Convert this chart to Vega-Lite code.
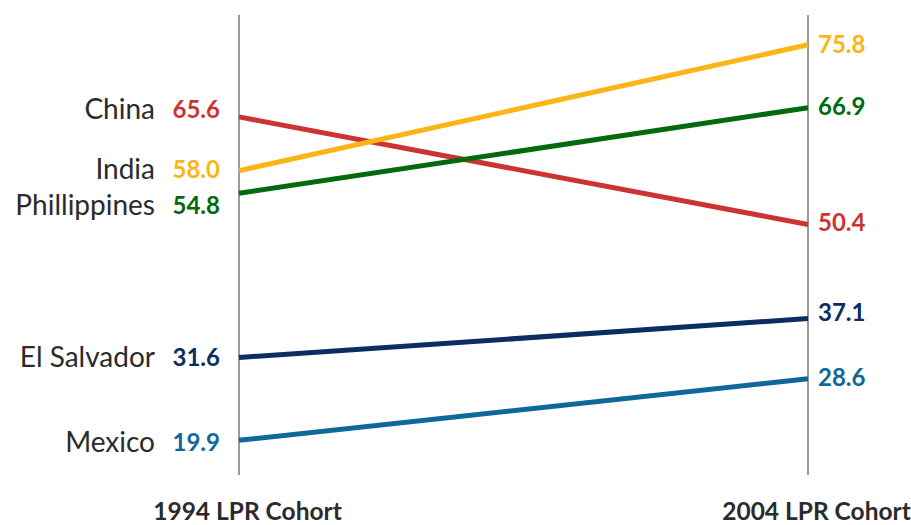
{
  "$schema": "https://vega.github.io/schema/vega-lite/v6.json",
  "autosize": "none",
  "width": 569,
  "height": 460,
  "padding": {"left": 239, "top": 15, "right": 103, "bottom": 50},
  "background": "white",
  "config": {"view": {"stroke": null}, "font": "Lato"},
  "data": {
    "values": [
      {"country": "China", "cohort": "1994 LPR Cohort", "value": 65.6, "labelValue": 66.5},
      {"country": "China", "cohort": "2004 LPR Cohort", "value": 50.4, "labelValue": 50.4},
      {"country": "India", "cohort": "1994 LPR Cohort", "value": 58.0, "labelValue": 58.0},
      {"country": "India", "cohort": "2004 LPR Cohort", "value": 75.8, "labelValue": 75.6},
      {"country": "Phillippines", "cohort": "1994 LPR Cohort", "value": 54.8, "labelValue": 52.8},
      {"country": "Phillippines", "cohort": "2004 LPR Cohort", "value": 66.9, "labelValue": 66.9},
      {"country": "El Salvador", "cohort": "1994 LPR Cohort", "value": 31.6, "labelValue": 31.4},
      {"country": "El Salvador", "cohort": "2004 LPR Cohort", "value": 37.1, "labelValue": 37.8},
      {"country": "Mexico", "cohort": "1994 LPR Cohort", "value": 19.9, "labelValue": 19.4},
      {"country": "Mexico", "cohort": "2004 LPR Cohort", "value": 28.6, "labelValue": 28.6}
    ]
  },
  "encoding": {
    "x": {
      "field": "cohort",
      "type": "ordinal",
      "scale": {"type": "point", "padding": 0},
      "axis": {
        "title": null,
        "orient": "bottom",
        "domain": false,
        "ticks": false,
        "grid": false,
        "labelAngle": 0,
        "labelFont": "Lato",
        "labelFontSize": 24.5,
        "labelFontWeight": "bold",
        "labelColor": "#2b2b2b",
        "labelPadding": 25,
        "labelOffset": 8,
        "labelLimit": 400,
        "labelOverlap": false,
        "labelBound": false
      }
    }
  },
  "layer": [
    {
      "mark": {"type": "rule", "color": "#9a9a9a", "strokeWidth": 2},
      "encoding": {}
    },
    {
      "mark": {"type": "line", "strokeWidth": 5},
      "encoding": {
        "y": {"field": "value", "type": "quantitative", "scale": {"domain": [15, 80], "nice": false, "zero": false}, "axis": null},
        "color": {
          "field": "country",
          "type": "nominal",
          "scale": {
            "domain": ["China", "India", "Phillippines", "El Salvador", "Mexico"],
            "range": ["#cc3333", "#fdb515", "#006a0c", "#0b2d5f", "#0f679a"]
          },
          "legend": null
        },
        "order": {"field": "cohort"}
      }
    },
    {
      "transform": [{"filter": "datum.cohort === '1994 LPR Cohort'"}],
      "mark": {"type": "text", "align": "right", "baseline": "middle", "dx": -19, "fontSize": 24, "fontWeight": "bold", "font": "Lato"},
      "encoding": {
        "y": {"field": "labelValue", "type": "quantitative", "scale": {"domain": [15, 80], "nice": false, "zero": false}, "axis": null},
        "text": {"field": "value", "type": "quantitative", "format": ".1f"},
        "color": {"field": "country", "type": "nominal", "legend": null}
      }
    },
    {
      "transform": [{"filter": "datum.cohort === '1994 LPR Cohort'"}],
      "mark": {"type": "text", "align": "right", "baseline": "middle", "dx": -84, "dy": 0, "fontSize": 28, "color": "#2b2b2b", "font": "Lato"},
      "encoding": {
        "y": {"field": "labelValue", "type": "quantitative", "scale": {"domain": [15, 80], "nice": false, "zero": false}, "axis": null},
        "text": {"field": "country", "type": "nominal"}
      }
    },
    {
      "transform": [{"filter": "datum.cohort === '2004 LPR Cohort'"}],
      "mark": {"type": "text", "align": "left", "baseline": "middle", "dx": 10, "fontSize": 24, "fontWeight": "bold", "font": "Lato"},
      "encoding": {
        "y": {"field": "labelValue", "type": "quantitative", "scale": {"domain": [15, 80], "nice": false, "zero": false}, "axis": null},
        "text": {"field": "value", "type": "quantitative", "format": ".1f"},
        "color": {"field": "country", "type": "nominal", "legend": null}
      }
    }
  ]
}
